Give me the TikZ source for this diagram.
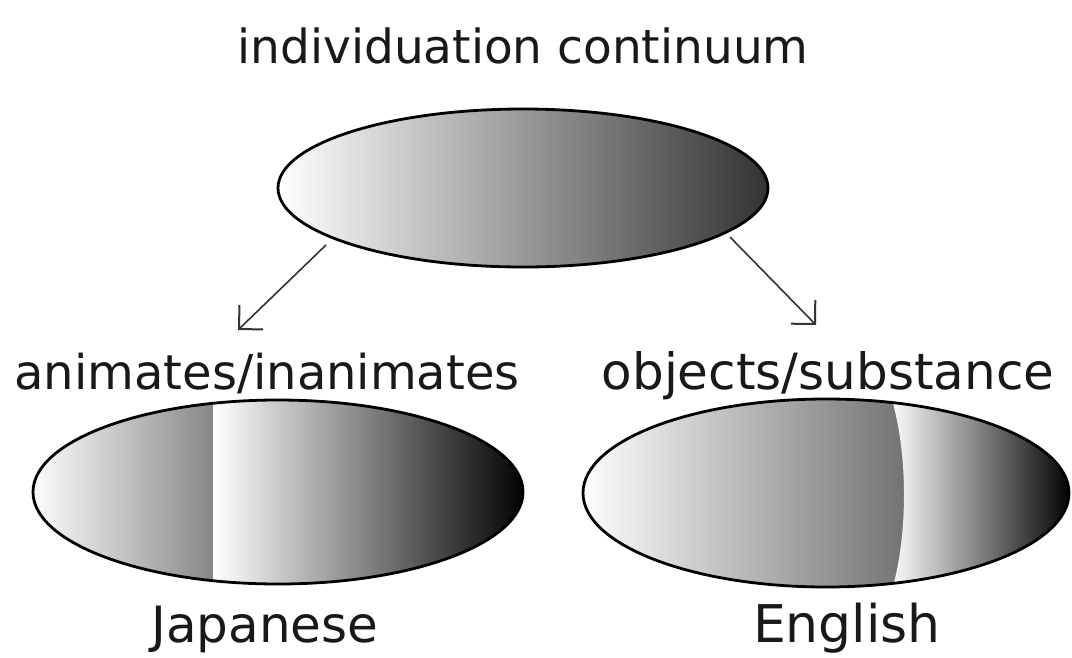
\documentclass[tikz,border=0pt]{standalone}
\usepackage{fontspec}
\setmainfont{DejaVu Sans}
\usetikzlibrary{shapes.geometric,arrows.meta}
\begin{document}
\begin{tikzpicture}[x=1pt,y=-1pt,
  lbl/.style={anchor=base,inner sep=0pt,text=black!90},
  oval/.style={ellipse,draw=black,line width=2.8pt,inner sep=0pt},
  arr/.style={line width=1.6pt,draw=black!80,
    -{Straight Barb[length=17pt,width=34pt,line width=2pt]}}]
\useasboundingbox[fill=white] (0,0) rectangle (1072,657);

% top ellipse
\node[oval,minimum width=490pt,minimum height=158pt,
      left color=white,right color=black!80] (top) at (523,188) {};

% left ellipse (Japanese)
\begin{scope}
  \clip (278,492) ellipse [x radius=245, y radius=92];
  \shade[left color=white,right color=black!47] (30,390) rectangle (213,600);
  \shade[left color=white,middle color=black!36,right color=black] (213,390) rectangle (526,600);
\end{scope}
\node[oval,minimum width=490pt,minimum height=184pt] (jp) at (278,492) {};

% right ellipse (English)
\begin{scope}
  \clip (826,493) ellipse [x radius=243, y radius=94];
  \shade[left color=white,right color=black!55] (580,390) rectangle (905,600);
  \shade[left color=white,middle color=black!38,right color=black]
    (889,390) .. controls (909,450) and (909,540) .. (889,600) -- (1072,600) -- (1072,390) -- cycle;
\end{scope}
\node[oval,minimum width=486pt,minimum height=188pt] (en) at (826,493) {};

% labels
\node[lbl,font=\fontsize{47}{56}\selectfont] (title) at (523,63) {individuation continuum};
\node[lbl,font=\fontsize{48}{56}\selectfont] (ani) at (267,389) {animates/inanimates};
\node[lbl,font=\fontsize{50}{56}\selectfont] (obj) at (828,389) {objects/substance};
\node[lbl,font=\fontsize{50}{56}\selectfont] (jpl) at (265,642) {Japanese};
\node[lbl,font=\fontsize{52}{56}\selectfont] (enl) at (847,642) {English};

% arrows
\coordinate (aLs) at (326,245);
\coordinate (aLe) at (238,330);
\coordinate (aRs) at (730,237);
\coordinate (aRe) at (816,325);
\draw[arr] (aLs) -- (aLe);
\draw[arr] (aRs) -- (aRe);
\end{tikzpicture}
\end{document}
